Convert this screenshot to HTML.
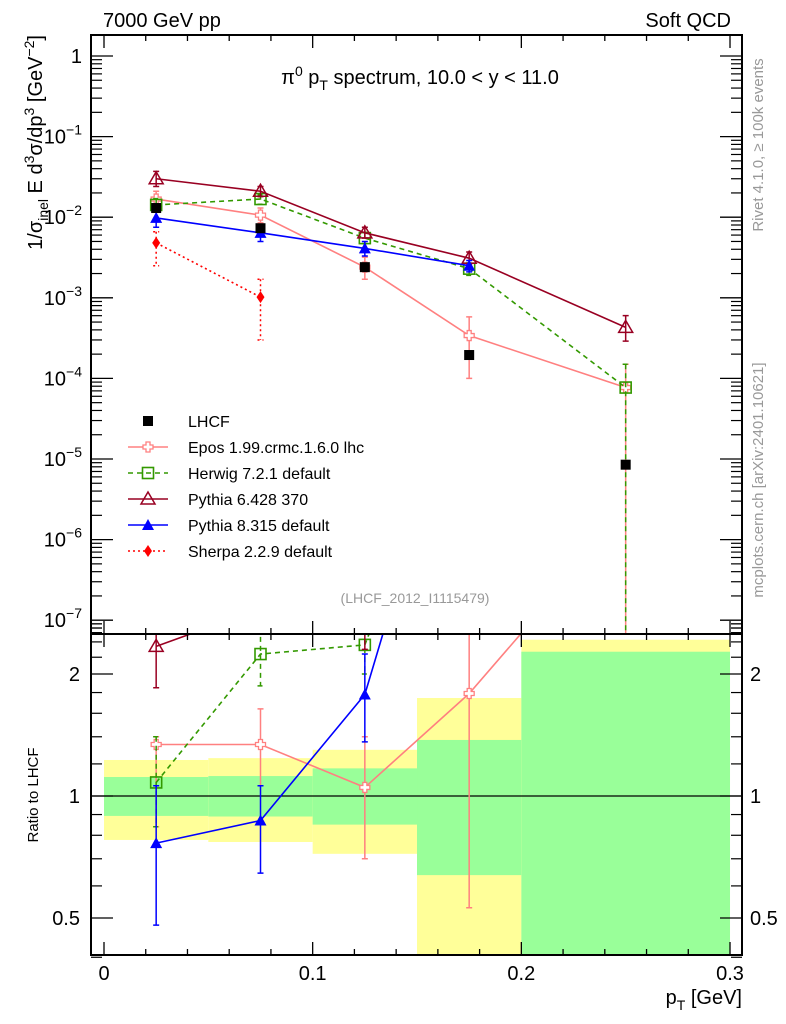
<!DOCTYPE html>
<html><head><meta charset="utf-8"><style>
html,body{margin:0;background:#fff;overflow:hidden;width:786px;height:1024px;}
svg{display:block;font-family:"Liberation Sans",sans-serif;}
</style></head><body>
<svg id="chart" width="786" height="1024" viewBox="0 0 786 1024">
<defs>
<clipPath id="cm"><rect x="91" y="35" width="651" height="599"/></clipPath>
<clipPath id="cr"><rect x="91" y="634" width="651" height="321"/></clipPath>
</defs>
<g id="bands" clip-path="url(#cr)"></g>
<g id="ratio" clip-path="url(#cr)"></g>
<g id="main" clip-path="url(#cm)"></g>
<g id="axes"></g>
<text x="103" y="27" font-size="20">7000 GeV pp</text>
<text x="731" y="27" font-size="20" text-anchor="end">Soft QCD</text>
<text x="420" y="84" font-size="20" text-anchor="middle">π<tspan dy="-8" font-size="14">0</tspan><tspan dy="8"> p</tspan><tspan dy="6" font-size="14">T</tspan><tspan dy="-6"> spectrum, 10.0 &lt; y &lt; 11.0</tspan></text>
<text x="415" y="603" font-size="14" fill="#999" text-anchor="middle">(LHCF_2012_I1115479)</text>
<text transform="translate(42,35) rotate(-90)" font-size="20" text-anchor="end">1/σ<tspan dy="6" font-size="14">inel</tspan><tspan dy="-6"> E d</tspan><tspan dy="-8" font-size="14">3</tspan><tspan dy="8">σ/dp</tspan><tspan dy="-8" font-size="14">3</tspan><tspan dy="8"> [GeV</tspan><tspan dy="-8" font-size="14">−2</tspan><tspan dy="8">]</tspan></text>
<text transform="translate(38,795) rotate(-90)" font-size="15" text-anchor="middle">Ratio to LHCF</text>
<text x="742" y="1004" font-size="20" text-anchor="end">p<tspan dy="6" font-size="14">T</tspan><tspan dy="-6"> [GeV]</tspan></text>
<text transform="translate(763,145) rotate(-90)" font-size="15" fill="#999" text-anchor="middle">Rivet 4.1.0, ≥ 100k events</text>
<text transform="translate(763,480) rotate(-90)" font-size="15" fill="#999" text-anchor="middle">mcplots.cern.ch [arXiv:2401.10621]</text>
<g id="legend"></g>
</svg>
<script>
// ---- data ----
const xCenters = [0.025, 0.075, 0.125, 0.175, 0.25];
const binEdges = [0, 0.05, 0.1, 0.15, 0.2, 0.3];
const lhcfVals = [0.013, 0.0073, 0.0024, 1.95e-4, 8.5e-6];
const bandYellowHi = [1.227, 1.24, 1.30, 1.745, 2.43];
const bandYellowLo = [0.779, 0.77, 0.72, 0.0, 0.0];
const bandGreenHi = [1.114, 1.12, 1.17, 1.375, 2.27];
const bandGreenLo = [0.893, 0.89, 0.85, 0.638, 0.0];
const eposVals = [0.0168, 0.0106, 0.0024, 3.4e-4, 7.7e-5];
const eposHi = [0.021, 0.013, 0.0032, 5.8e-4, 1.5e-4];
const eposLo = [0.013, 0.0085, 0.0017, 1.0e-4, 0];
const herwigVals = [0.0142, 0.0168, 0.0055, 0.0023, 7.7e-5];
const herwigHi = [0.017, 0.019, 0.0065, 0.0027, 1.5e-4];
const herwigLo = [0.012, 0.0145, 0.0047, 0.0019, 0];
const py6Vals = [0.030, 0.021, 0.0064, 0.0031, 4.3e-4];
const py6Hi = [0.037, 0.024, 0.0075, 0.0037, 6.0e-4];
const py6Lo = [0.024, 0.018, 0.0055, 0.0026, 2.9e-4];
const py8Vals = [0.0098, 0.0064, 0.0041, 0.0025];
const py8Hi = [0.0125, 0.0078, 0.005, 0.0029];
const py8Lo = [0.0075, 0.005, 0.0033, 0.0021];
const sherpaVals = [0.0048, 0.00102];
const sherpaHi = [0.0066, 0.0017];
const sherpaLo = [0.0025, 0.0003];
const eposRatio = [1.34, 1.34, 1.05, 1.79, 5.0];
const eposRatioHi = [1.40, 1.64, 1.40, 3.0, 9];
const eposRatioLo = [0.84, 1.06, 0.70, 0.53, 3];
const herwigRatio = [1.08, 2.24, 2.36, 11, 9];
const herwigRatioHi = [1.40, 2.6, 2.7, 13, 12];
const herwigRatioLo = [0.84, 1.87, 2.0, 9, 6];
const py6Ratio = [2.34, 2.9, 2.7, 16, 50];
const py6RatioHi = [2.9, 3.3, 3.1, 18, 60];
const py6RatioLo = [1.85, 2.6, 2.3, 14, 40];
const py8Ratio = [0.765, 0.87, 1.78, 13];
const py8RatioHi = [1.06, 1.06, 2.24, 15];
const py8RatioLo = [0.48, 0.645, 1.36, 11];
const xTicks = [0, 0.1, 0.2, 0.3];
const xTickLabels = ["0", "0.1", "0.2", "0.3"];
const yMainExps = [0, -1, -2, -3, -4, -5, -6, -7];
const ratioTicks = [0.5, 1, 2];
const ratioTickLabels = ["0.5", "1", "2"];
// ---- scales ----
const NS = "http://www.w3.org/2000/svg";
const L = 91, R = 742, MT = 35, MB = 634, RB = 955;
const X = p => 104 + p * 2086.7;
const YM = v => v <= 0 ? 640 : 56 - 80.6 * Math.log10(v);
const YR = r => r <= 0 ? 960 : Math.min(960, 796 - 122 * Math.log2(r));
function mk(parent, tag, attrs) { const e = document.createElementNS(NS, tag); for (const k in attrs) e.setAttribute(k, attrs[k]); parent.appendChild(e); return e; }
const gB = document.getElementById('bands'), gR = document.getElementById('ratio'), gM = document.getElementById('main'), gA = document.getElementById('axes'), gL = document.getElementById('legend');

// bands
for (let i = 0; i < 5; i++) {
  const x0 = X(binEdges[i]), x1 = X(binEdges[i + 1]);
  const y1 = mk(gB, 'rect', { x: x0, y: YR(bandYellowHi[i]), width: x1 - x0, height: YR(bandYellowLo[i]) - YR(bandYellowHi[i]), fill: '#ffff99' });
  
  
  const g1 = mk(gB, 'rect', { x: x0, y: YR(bandGreenHi[i]), width: x1 - x0, height: YR(bandGreenLo[i]) - YR(bandGreenHi[i]), fill: '#99ff99' });
  
  
}
const one = mk(gB, 'line', { x1: L, x2: R, y1: YR(1), y2: YR(1), stroke: '#000', 'stroke-width': 1.2 });



function marker(g, type, cx, cy, color) {
  let e;
  if (type === 'sq') e = mk(g, 'rect', { x: cx - 5, y: cy - 5, width: 10, height: 10, fill: '#000' });
  else if (type === 'osq') e = mk(g, 'rect', { x: cx - 5.5, y: cy - 5.5, width: 11, height: 11, fill: 'none', stroke: color, 'stroke-width': 1.6 });
  else if (type === 'cross') e = mk(g, 'path', { d: `M${cx-2},${cy-5}h4v3h3v4h-3v3h-4v-3h-3v-4h3z`, fill: '#fff', stroke: color, 'stroke-width': 1.3 });
  else if (type === 'otri') e = mk(g, 'path', { d: `M${cx},${cy-7}L${cx+7},${cy+5}L${cx-7},${cy+5}Z`, fill: 'none', stroke: color, 'stroke-width': 1.5 });
  else if (type === 'tri') e = mk(g, 'path', { d: `M${cx},${cy-6}L${cx+6},${cy+5}L${cx-6},${cy+5}Z`, fill: color });
  else e = mk(g, 'path', { d: `M${cx},${cy-6}L${cx+4},${cy}L${cx},${cy+6}L${cx-4},${cy}Z`, fill: color });
  
  
}
function series(g, Y, vals, hi, lo, color, dash, type, name) {
  const pts = vals.map((v, i) => X(xCenters[i]) + ',' + Y(v)).join(' ');
  const pl = mk(g, 'polyline', { points: pts, fill: 'none', stroke: color, 'stroke-width': 1.6, 'stroke-dasharray': dash });
  
  
  vals.forEach((v, i) => {
    const cx = X(xCenters[i]);
    const eb = mk(g, 'path', { d: `M${cx},${Y(hi[i])}V${Y(lo[i])}M${cx-3},${Y(hi[i])}h6M${cx-3},${Y(lo[i])}h6`, stroke: color, 'stroke-width': 1.5, 'stroke-dasharray': dash, fill: 'none' });
    
    
    marker(g, type, cx, Y(v), color);
  });
}
const models = [
  ['epos', '#ff8080', '', 'cross', eposVals, eposHi, eposLo, eposRatio, eposRatioHi, eposRatioLo, 'Epos 1.99.crmc.1.6.0 lhc'],
  ['herwig', '#339900', '5,4', 'osq', herwigVals, herwigHi, herwigLo, herwigRatio, herwigRatioHi, herwigRatioLo, 'Herwig 7.2.1 default'],
  ['pythia6', '#990022', '', 'otri', py6Vals, py6Hi, py6Lo, py6Ratio, py6RatioHi, py6RatioLo, 'Pythia 6.428 370'],
  ['pythia8', '#0000ff', '', 'tri', py8Vals, py8Hi, py8Lo, py8Ratio, py8RatioHi, py8RatioLo, 'Pythia 8.315 default'],
  ['sherpa', '#ff0000', '2,3', 'dia', sherpaVals, sherpaHi, sherpaLo, null, null, null, 'Sherpa 2.2.9 default']
];
models.forEach(m => series(gM, YM, m[4], m[5], m[6], m[1], m[2], m[3], m[0]));
lhcfVals.forEach((v, i) => marker(gM, 'sq', X(xCenters[i]), YM(v), '#000'));
models.forEach(m => { if (m[7]) series(gR, YR, m[7], m[8], m[9], m[1], m[2], m[3], m[0] + '-ratio'); });

// legend
const legY = [421, 447, 473, 499, 525, 551];
const legItems = [['LHCF', '#000', '', 'sq']].concat(models.map(m => [m[10], m[1], m[2], m[3]]));
legItems.forEach((it, i) => {
  const y = legY[i];
  if (i > 0) mk(gL, 'line', { x1: 128, x2: 168, y1: y, y2: y, stroke: it[1], 'stroke-width': 1.6, 'stroke-dasharray': it[2] });
  marker(gL, it[3], 148, y, it[1]);
  const t = mk(gL, 'text', { x: 188, y: y + 6, 'font-size': 16 });
  t.textContent = it[0];
  
  
});

// axes frames
[[MT, MB], [MB, RB]].forEach(([t, b]) => mk(gA, 'rect', { x: L, y: t, width: R - L, height: b - t, fill: 'none', stroke: '#000', 'stroke-width': 2 }));
// x ticks
for (let k = 0; k <= 30; k++) {
  const p = k * 0.01, x = X(p), major = k % 10 === 0, len = major ? 13 : 6;
  if (k % 2 && !major) continue;
  [[MT, 1], [MB, -1], [MB, 1], [RB, -1]].forEach(([y0, d]) => mk(gA, 'line', { x1: x, x2: x, y1: y0, y2: y0 + d * len, stroke: '#000', 'stroke-width': 1.3 }));
}
xTicks.forEach((p, i) => { const t = mk(gA, 'text', { x: X(p), y: 980, 'font-size': 20, 'text-anchor': 'middle' }); t.textContent = xTickLabels[i]; });
// main y ticks
yMainExps.forEach(e => {
  const y = YM(Math.pow(10, e));
  [[L, 1], [R, -1]].forEach(([x0, d]) => mk(gA, 'line', { x1: x0, x2: x0 + d * 22, y1: y, y2: y, stroke: '#000', 'stroke-width': 1.3 }));
  const t = mk(gA, 'text', { x: 82, y: y + 7, 'font-size': 20, 'text-anchor': 'end' });
  if (e === 0) t.textContent = '1';
  else { t.textContent = '10'; const s = mk(t, 'tspan', { dy: -9, 'font-size': 14 }); s.textContent = '−' + (-e); }
  for (let m = 2; m <= 9; m++) {
    const ym = YM(m * Math.pow(10, e - 1));
    if (ym < MT || ym > MB) continue;
    [[L, 1], [R, -1]].forEach(([x0, d]) => mk(gA, 'line', { x1: x0, x2: x0 + d * 11, y1: ym, y2: ym, stroke: '#000', 'stroke-width': 1.2 }));
  }
});
for (let m = 2; m <= 9; m++) { const ym = YM(m * 1e-8); if (ym > MT && ym < MB) [[L, 1], [R, -1]].forEach(([x0, d]) => mk(gA, 'line', { x1: x0, x2: x0 + d * 11, y1: ym, y2: ym, stroke: '#000', 'stroke-width': 1.2 })); }
// ratio y ticks
for (let r = 0.4; r <= 2.5; r += 0.1) {
  const rr = Math.round(r * 10) / 10, y = YR(rr);
  if (rr > 1 && Math.round(rr * 10) % 2) continue;
  const major = ratioTicks.includes(rr);
  [[L, 1], [R, -1]].forEach(([x0, d]) => mk(gA, 'line', { x1: x0, x2: x0 + d * (major ? 22 : 11), y1: y, y2: y, stroke: '#000', 'stroke-width': 1.2 }));
}
ratioTicks.forEach((r, i) => {
  const t1 = mk(gA, 'text', { x: 80, y: YR(r) + 7, 'font-size': 20, 'text-anchor': 'end' }); t1.textContent = ratioTickLabels[i];
  const t2 = mk(gA, 'text', { x: 750, y: YR(r) + 7, 'font-size': 20 }); t2.textContent = ratioTickLabels[i];
});
</script>
</body></html>
